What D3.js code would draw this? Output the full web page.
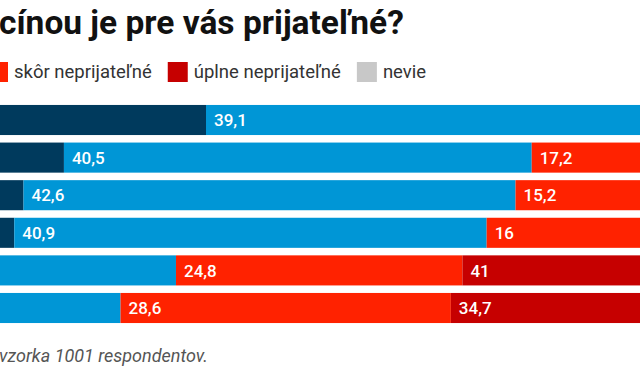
<!DOCTYPE html>
<html>
<head>
<meta charset="utf-8">
<script src="https://cdn.jsdelivr.net/npm/d3@7"></script>
<style>
  html, body { margin: 0; padding: 0; background: #fff; overflow: hidden; }
  svg { display: block; font-family: Roboto, "Noto Sans", sans-serif; }
</style>
</head>
<body>
<svg id="chart" width="640" height="384"></svg>
<script>
// ---- data ----
const rows = ["r1", "r2", "r3", "r4", "r5", "r6"];
const seriesNames = ["úplne prijateľné", "skôr prijateľné", "skôr neprijateľné", "úplne neprijateľné", "nevie"];
const uplnePrijatelne   = [30.0, 17.7, 14.2, 13.4, 7.0, 6.5];
const skorPrijatelne    = [39.1, 40.5, 42.6, 40.9, 20.4, 16.1];
const skorNeprijatelne  = [15.0, 17.2, 15.2, 16, 24.8, 28.6];
const uplneNeprijatelne = [8.0, 12.1, 16.5, 18.2, 41, 34.7];
const nevie             = [7.9, 12.5, 11.5, 11.5, 6.8, 14.1];
const colors = ["#003a5d", "#0096d6", "#ff2200", "#c60000", "#c8c8c8"];
const titleText = "cínou je pre vás prijateľné?";
const noteText = "vzorka 1001 respondentov.";

// ---- build ----
const seriesValues = [uplnePrijatelne, skorPrijatelne, skorNeprijatelne, uplneNeprijatelne, nevie];
const table = rows.map((r, i) => {
  const o = { row: r };
  seriesNames.forEach((s, k) => o[s] = seriesValues[k][i]);
  return o;
});
const stacked = d3.stack().keys(seriesNames)(table);

const svg = d3.select("#chart");
const W = 640;

const plotLeft = -140.5, plotWidth = 1155;
const x = d3.scaleLinear().domain([0, 100]).range([plotLeft, plotLeft + plotWidth]);
const y = d3.scaleBand().domain(rows).range([101.2, 326.8]).paddingInner(0.2).paddingOuter(0.1);

const fmt = v => String(v).replace(".", ",");

// bars
const layers = svg.append("g").selectAll("g").data(stacked).join("g")
  .attr("fill", (d, i) => colors[i]);
layers.selectAll("rect").data(d => d).join("rect")
  .attr("x", d => x(d[0]))
  .attr("y", d => y(d.data.row))
  .attr("width", d => x(d[1]) - x(d[0]))
  .attr("height", y.bandwidth());

// value labels (only those inside the view)
const labels = [];
stacked.forEach((layer, k) => layer.forEach(d => {
  const lx = x(d[0]) + 8;
  if (lx > 0 && lx < W - 20) labels.push({ x: lx, row: d.data.row, v: d.data[layer.key], k });
}));
svg.append("g").selectAll("text").data(labels).join("text")
  .attr("x", d => d.x)
  .attr("y", d => y(d.row) + y.bandwidth() / 2)
  .attr("dy", "0.36em")
  .attr("fill", "#fff")
  .attr("font-size", 17)
  .attr("font-weight", 500)
  .text(d => fmt(d.v));

// title
svg.append("text")
  .attr("x", -1).attr("y", 34)
  .attr("font-size", 33.5).attr("font-weight", 700).attr("fill", "#111")
  .text(titleText);

// legend: third item's swatch starts just off the left edge
const legend = svg.append("g").attr("transform", "translate(0,72)");
const sw = 20, gapT = 6, gapI = 16;
const items = legend.selectAll("g").data(seriesNames.slice(2)).join("g");
items.append("rect").attr("width", sw).attr("height", sw).attr("y", -sw / 2)
  .attr("fill", (d, i) => colors[i + 2]);
items.append("text").attr("x", sw + gapT).attr("dy", "0.35em")
  .attr("font-size", 18.5).attr("fill", "#333").text(d => d);
let cx = -12;
items.each(function() {
  const g = d3.select(this);
  g.attr("transform", `translate(${cx},0)`);
  cx += sw + gapT + g.select("text").node().getComputedTextLength() + gapI;
});

// footnote
svg.append("text")
  .attr("x", -1).attr("y", 362)
  .attr("font-size", 18).attr("font-style", "italic").attr("fill", "#555")
  .text(noteText);
</script>
</body>
</html>
